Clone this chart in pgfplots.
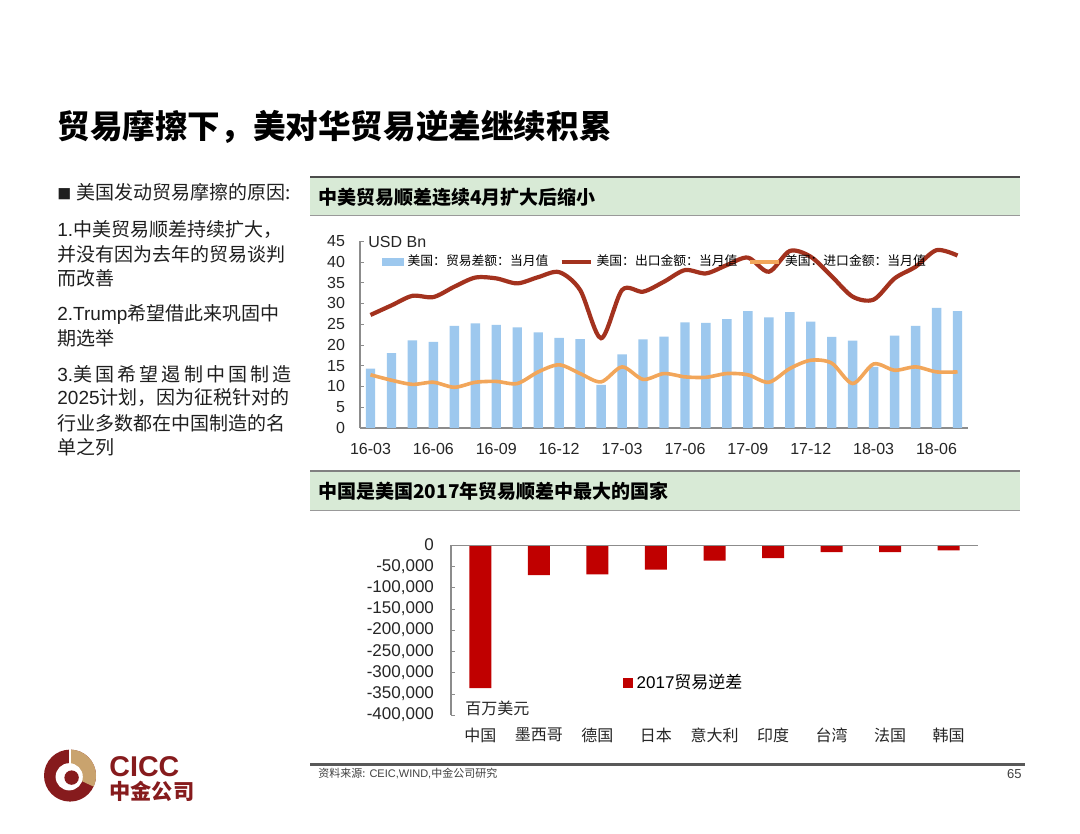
\documentclass[border=0pt]{standalone}
\usepackage{pgfplots}
\pgfplotsset{compat=1.18}
\usepackage{pgfplotstable}
\usepackage{fontspec}
\setmainfont{Liberation Sans}
\newfontfamily\cjk{Noto Sans CJK SC}
\definecolor{barblue}{HTML}{9DC8EE}
\definecolor{expred}{HTML}{A3321E}
\definecolor{imporange}{HTML}{F2A65A}
\definecolor{defred}{HTML}{C00000}
\definecolor{band}{HTML}{D8EAD6}
\definecolor{logored}{HTML}{861B1D}
\definecolor{logogold}{HTML}{C9A36E}

\pgfplotstableread{
idx bal exp imp
0 14.3 27.2 12.8
1 18.0 29.5 11.5
2 21.1 31.8 10.5
3 20.7 31.5 11.0
4 24.6 34.0 9.8
5 25.2 36.2 11.0
6 24.8 36.0 11.2
7 24.2 34.8 10.7
8 23.0 36.3 13.5
9 21.7 37.5 15.2
10 21.4 33.2 13.1
11 10.4 21.6 11.1
12 17.7 33.2 14.7
13 21.3 32.8 11.7
14 22.0 35.2 13.1
15 25.4 38.0 12.3
16 25.3 37.2 12.2
17 26.2 39.2 13.1
18 28.1 41.0 12.8
19 26.6 37.6 11.0
20 27.9 42.6 14.3
21 25.6 41.2 16.3
22 21.9 36.5 15.6
23 21.0 31.6 10.7
24 14.7 30.9 15.4
25 22.2 36.0 13.9
26 24.6 38.8 14.7
27 28.9 42.8 13.5
28 28.1 41.5 13.5
}\tradetable

\begin{document}
\begin{tikzpicture}[x=1pt,y=1pt]
\path[use as bounding box, fill=white] (0,0) rectangle (540,417);

% ---- title
\node[anchor=west, inner sep=0pt, font=\cjk\bfseries\fontsize{16.3}{19}\selectfont] at (28.5,353.5) {贸易摩擦下，美对华贸易逆差继续积累};

% ---- left text
\begin{scope}[every node/.style={anchor=west, inner sep=0pt, text=black!88, font=\fontsize{9.5}{11}\selectfont}]
\node at (28.5,321) {{\cjk\fontsize{7}{8}\selectfont ■}\ {\cjk 美国发动贸易摩擦的原因:}};
\node at (28.5,302) {1.{\cjk 中美贸易顺差持续扩大，}};
\node at (28.5,290) {{\cjk 并没有因为去年的贸易谈判}};
\node at (28.5,278) {{\cjk 而改善}};
\node at (28.5,260) {2.Trump{\cjk 希望借此来巩固中}};
\node at (28.5,248) {{\cjk 期选举}};
\node at (28.5,230) {3.{\cjk 美\,国\,希\,望\,遏\,制\,中\,国\,制\,造}};
\node at (28.5,218) {2025{\cjk 计划，因为征税针对的}};
\node at (28.5,205.5) {{\cjk 行业多数都在中国制造的名}};
\node at (28.5,193.5) {{\cjk 单之列}};
\end{scope}

% ---- header bands
\fill[band] (155,309.5) rectangle (510,328);
\draw[black!70, line width=1pt] (155,328.5) -- (510,328.5);
\draw[black!40, line width=0.7pt] (155,309.2) -- (510,309.2);
\node[anchor=west, inner sep=0pt, font=\cjk\bfseries\fontsize{9.5}{11}\selectfont] at (159,318.5) {中美贸易顺差连续4月扩大后缩小};

\fill[band] (155,162) rectangle (510,181);
\draw[black!50, line width=0.7pt] (155,181.5) -- (510,181.5);
\draw[black!40, line width=0.7pt] (155,161.7) -- (510,161.7);
\node[anchor=west, inner sep=0pt, font=\cjk\bfseries\fontsize{9.5}{11}\selectfont] at (159,171.5) {中国是美国2017年贸易顺差中最大的国家};

% ---- top chart
\begin{axis}[
  at={(180pt,203pt)}, anchor=south west, scale only axis,
  width=304pt, height=93.5pt,
  xmin=-0.5, xmax=28.5, ymin=0, ymax=45,
  axis x line*=bottom, axis y line*=left,
  axis line style={draw=black!45, line width=0.6pt},
  xtick={0,3,...,27},
  xticklabels={16-03,16-06,16-09,16-12,17-03,17-06,17-09,17-12,18-03,18-06},
  ytick={0,5,...,45},
  tick style={draw=black!45},
  major tick length=2pt,
  tick label style={font=\fontsize{8}{9}\selectfont, text=black!85},
  /pgf/number format/assume math mode=true,
  xticklabel style={yshift=-4pt},
  yticklabel style={xshift=-4pt},
  legend style={at={(rel axis cs:0.025,0.888)}, anchor=west, draw=none, fill=none,
    font=\cjk\fontsize{6.4}{7}\selectfont, legend columns=3,
    /tikz/every even column/.append style={column sep=3.5pt}},
  legend cell align=left,
]
\addplot[ybar, bar width=4.7pt, fill=barblue, draw=none,
  legend image code/.code={\fill[barblue] (0pt,-2pt) rectangle (11pt,2pt);}]
  table[x=idx, y=bal] {\tradetable};
\addlegendentry{美国：贸易差额：当月值}
\addplot[expred, line width=2.1pt, smooth, no markers,
  legend image code/.code={\draw[expred, line width=2.1pt] (0pt,0pt) -- (14.5pt,0pt);}]
  table[x=idx, y=exp] {\tradetable};
\addlegendentry{美国：出口金额：当月值}
\addplot[imporange, line width=1.8pt, smooth, no markers,
  legend image code/.code={\draw[imporange, line width=1.8pt] (0pt,0pt) -- (14.5pt,0pt);}]
  table[x=idx, y=imp] {\tradetable};
\addlegendentry{美国：进口金额：当月值}
\end{axis}
\node[anchor=west, inner sep=0pt, font=\fontsize{8}{9}\selectfont, text=black!85] at (184,296) {USD Bn};

% ---- bottom chart
\begin{axis}[
  at={(225.5pt,59.5pt)}, anchor=south west, scale only axis,
  width=263.5pt, height=85pt,
  xmin=-0.5, xmax=8.5, ymin=-400000, ymax=0,
  axis y line*=left, axis x line*=bottom,
  x axis line style={draw=none},
  y axis line style={draw=black!45, line width=0.6pt},
  xtick={0,...,8},
  xticklabels={中国,墨西哥,德国,日本,意大利,印度,台湾,法国,韩国},
  xticklabel style={font=\cjk\fontsize{8}{9}\selectfont, yshift=-3pt, text=black!85},
  x tick style={draw=none},
  ytick={-400000,-350000,-300000,-250000,-200000,-150000,-100000,-50000,0},
  yticklabels={{-400,000},{-350,000},{-300,000},{-250,000},{-200,000},{-150,000},{-100,000},{-50,000},{0}},
  y tick style={draw=black!45},
  major tick length=2pt,
  yticklabel style={font=\fontsize{8.5}{10}\selectfont, text=black!85, xshift=-5pt},
  scaled y ticks=false,
  legend style={at={(rel axis cs:0.325,0.188)}, anchor=west, draw=none, fill=none,
    font=\fontsize{8.5}{10}\selectfont, inner sep=0pt},
]
\addplot[ybar, bar width=11pt, fill=defred, draw=none,
  legend image code/.code={\fill[defred] (0pt,-2.5pt) rectangle (5pt,2.5pt);}]
  coordinates {(0,-337000) (1,-71000) (2,-69000) (3,-58000) (4,-37000) (5,-31000) (6,-17000) (7,-16500) (8,-12500)};
\addlegendentry{2017{\cjk 贸易逆差}}
\draw[black!45, line width=0.6pt] (axis cs:-0.5,0) -- (axis cs:8.5,0);
\draw[black!45, line width=0.6pt] (axis cs:0.5,0) -- ++(0pt,2pt) (axis cs:1.5,0) -- ++(0pt,2pt)
  (axis cs:2.5,0) -- ++(0pt,2pt) (axis cs:3.5,0) -- ++(0pt,2pt) (axis cs:4.5,0) -- ++(0pt,2pt)
  (axis cs:5.5,0) -- ++(0pt,2pt) (axis cs:6.5,0) -- ++(0pt,2pt) (axis cs:7.5,0) -- ++(0pt,2pt)
  (axis cs:8.5,0) -- ++(0pt,2pt);
\end{axis}
\node[anchor=west, inner sep=0pt, font=\cjk\fontsize{8}{9}\selectfont, text=black!85] at (232.5,63) {百万美元};

% ---- footer
\draw[black!65, line width=1.5pt] (155,34.5) -- (512.5,34.5);
\node[anchor=west, inner sep=0pt, font=\fontsize{5.5}{6}\selectfont, text=black!75] at (159,30) {{\cjk 资料来源:} CEIC,WIND,{\cjk 中金公司研究}};
\node[anchor=east, inner sep=0pt, font=\fontsize{6.5}{7}\selectfont, text=black!75] at (511,30) {65};

% ---- logo
\fill[logored] (35,29.2) circle[radius=13];
\fill[logogold] (35,29.2) -- (35,42.2) arc[start angle=90, end angle=-25, radius=13] -- cycle;
\fill[white] (34.6,28.6) circle[radius=6.8];
\fill[logored] (35.8,28.2) circle[radius=3.6];
\draw[white, line width=0.9pt] (35,35) -- (35,42.4);
\node[anchor=west, inner sep=0pt, text=logored, font=\bfseries\fontsize{14.3}{15}\selectfont] at (54.5,33.5) {CICC};
\node[anchor=west, inner sep=0pt, text=logored, font=\cjk\bfseries\fontsize{10.6}{12}\selectfont] at (54.5,21.5) {中金公司};
\end{tikzpicture}
\end{document}
